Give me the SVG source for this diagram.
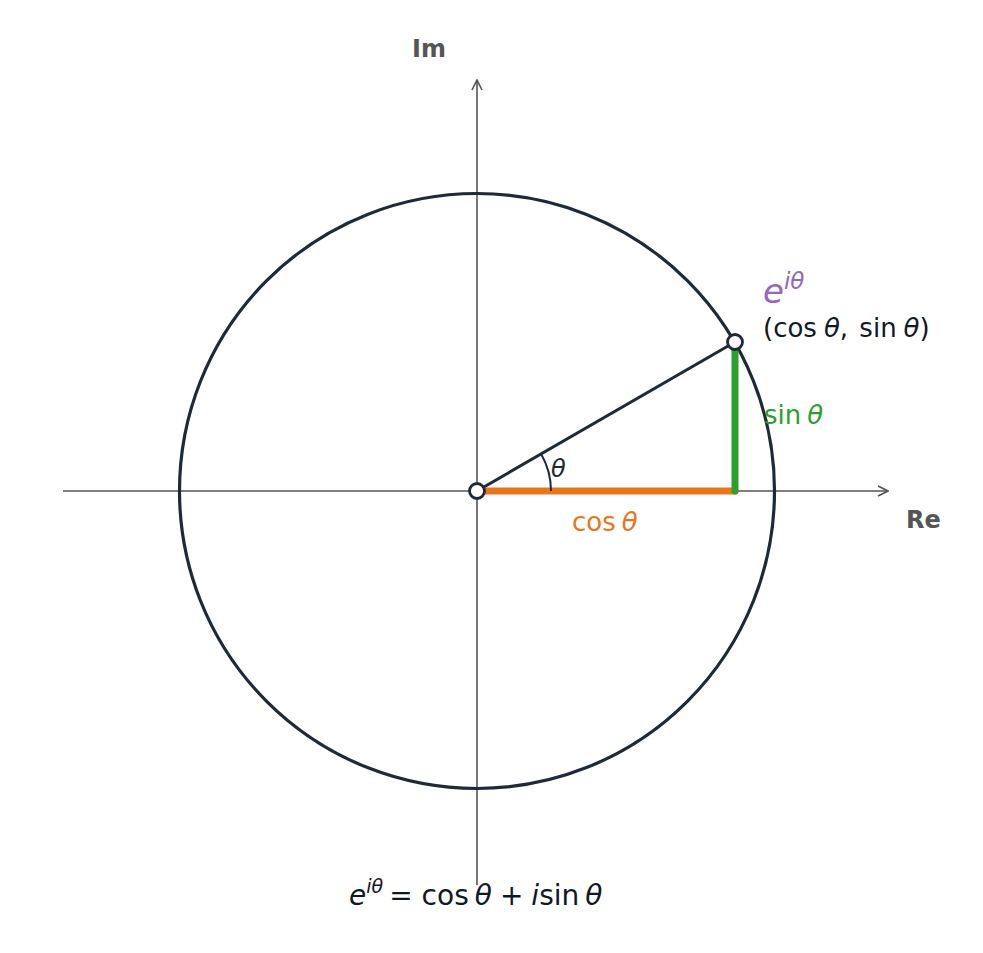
<svg xmlns="http://www.w3.org/2000/svg" width="983" height="953" viewBox="0 0 983 953">
<style>
.t{font-family:"DejaVu Sans","Liberation Sans",sans-serif}
.it{font-style:italic}
.ax{stroke:#555555;stroke-width:1.6;fill:none}
.lbl{font-family:"DejaVu Sans",sans-serif;font-weight:bold;font-size:24px;fill:#555555}
</style>
<defs>
<marker id="arr" viewBox="0 0 12 12" refX="11" refY="6" markerWidth="12" markerHeight="12" markerUnits="userSpaceOnUse" orient="auto">
<path d="M1,1 L11,6 L1,11" fill="none" stroke="#555555" stroke-width="1.6"/>
</marker>
</defs>
<rect width="983" height="953" fill="#ffffff"/>
<g id="connectors">
<line class="ax" x1="63" y1="491" x2="888" y2="491" marker-end="url(#arr)"/>
<line class="ax" x1="477" y1="885" x2="477" y2="80" marker-end="url(#arr)"/>
</g>
<g id="unit-circle">
<circle cx="477" cy="491" r="297.5" fill="none" stroke="#1f2937" stroke-width="3.2"/>
</g>
<g id="radius">
<line x1="477" y1="491" x2="735" y2="342" stroke="#1f2937" stroke-width="3"/>
</g>
<g id="cos-segment">
<line x1="477" y1="491" x2="735" y2="491" stroke="#e8761e" stroke-width="7" stroke-linecap="round"/>
<text class="t" x="572" y="531" font-size="26" fill="#e8761e">cos<tspan class="it" dx="6">θ</tspan></text>
</g>
<g id="sin-segment">
<line x1="735" y1="342" x2="735" y2="491" stroke="#2ca02c" stroke-width="7" stroke-linecap="round"/>
<text class="t" x="764" y="424" font-size="26" fill="#2ca02c">sin<tspan class="it" dx="6">θ</tspan></text>
</g>
<g id="angle">
<path d="M551,491 A74,74 0 0 0 541.1,454" fill="none" stroke="#1f2937" stroke-width="2"/>
<text class="t it" x="551" y="477" font-size="24" fill="#1f2937">θ</text>
</g>
<g id="origin">
<circle cx="477" cy="491" r="7.5" fill="#ffffff" stroke="#1f2937" stroke-width="2.8"/>
</g>
<g id="point">
<circle cx="735" cy="342" r="7.5" fill="#ffffff" stroke="#1f2937" stroke-width="2.8"/>
<text class="t it" x="763" y="303" font-size="34" fill="#9467bd">e<tspan font-size="23" dy="-14">iθ</tspan></text>
<text class="t" x="763" y="337" font-size="26" fill="#111827">(cos<tspan class="it" dx="7">θ</tspan>,<tspan dx="3"> sin</tspan><tspan class="it" dx="7">θ</tspan>)</text>
</g>
<g id="axis-labels">
<text class="lbl" x="906" y="528">Re</text>
<text class="lbl" x="412" y="57">Im</text>
</g>
<g id="formula">
<text class="t" x="349" y="905" font-size="28" fill="#111827"><tspan class="it">e</tspan><tspan class="it" font-size="19" dy="-12">iθ</tspan><tspan dy="12" dx="6">=</tspan><tspan dx="9">cos</tspan><tspan class="it" dx="6">θ</tspan><tspan dx="8">+</tspan><tspan class="it" dx="8">i</tspan><tspan>sin</tspan><tspan class="it" dx="6">θ</tspan></text>
</g>
</svg>
